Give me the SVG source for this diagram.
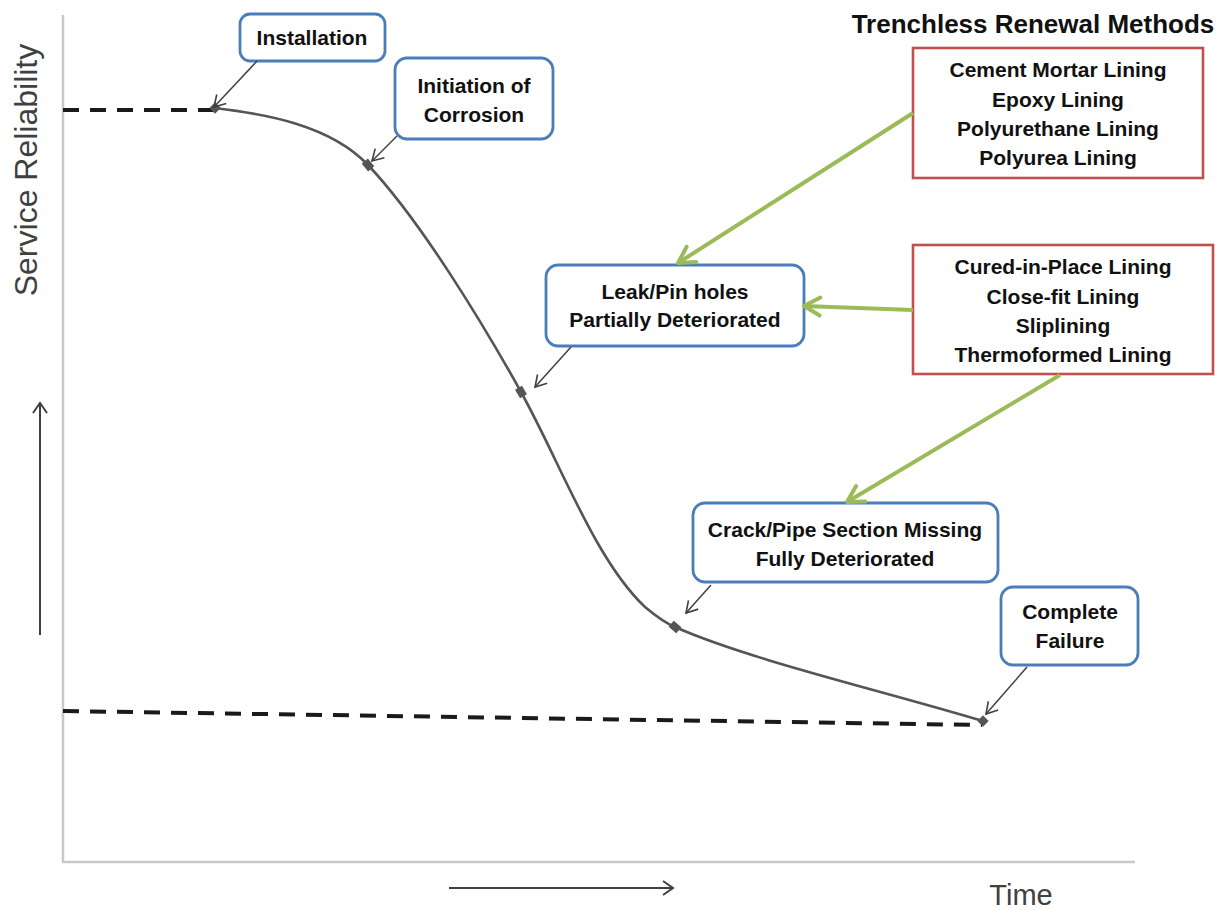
<svg xmlns="http://www.w3.org/2000/svg" width="1228" height="911" viewBox="0 0 1228 911">
<style>
.bg{fill:#ffffff}
.axis{stroke:#c8c8c8;stroke-width:2.5;fill:none}
.dash{stroke:#1a1a1a;stroke-width:4;stroke-dasharray:16 11;fill:none}
.curve{stroke:#555555;stroke-width:2.6;fill:none}
.pt{fill:#555555}
.blue{fill:#ffffff;stroke:#4a7ebb;stroke-width:2.8}
.red{fill:#ffffff;stroke:#c0504d;stroke-width:2.6}
.lbl{font-family:"Liberation Sans",Arial,sans-serif;font-weight:bold;font-size:21px;fill:#111111;text-anchor:middle}
.title{font-family:"Liberation Sans",Arial,sans-serif;font-weight:bold;font-size:26px;fill:#111111;text-anchor:middle}
.axlbl{font-family:"Liberation Sans",Arial,sans-serif;font-size:32px;fill:#404040;text-anchor:middle}
.ptr{stroke:#404040;stroke-width:1.5;fill:none;marker-end:url(#gh)}
.grn{stroke:#9bbb59;stroke-width:4;fill:none;marker-end:url(#gr)}
.dir{stroke:#404040;stroke-width:2;fill:none;marker-end:url(#dh)}
</style>
<defs>
<marker id="gh" markerUnits="userSpaceOnUse" markerWidth="30" markerHeight="30" refX="0" refY="0" viewBox="-15 -15 30 30" orient="auto" overflow="visible">
<path d="M-11,-6.5 L0,0 L-11,6.5" fill="none" stroke="#404040" stroke-width="1.6"/>
</marker>
<marker id="dh" markerUnits="userSpaceOnUse" markerWidth="30" markerHeight="30" refX="0" refY="0" viewBox="-15 -15 30 30" orient="auto" overflow="visible">
<path d="M-10,-7 L0,0 L-10,7" fill="none" stroke="#404040" stroke-width="2"/>
</marker>
<marker id="gr" markerUnits="userSpaceOnUse" markerWidth="40" markerHeight="40" refX="0" refY="0" viewBox="-20 -20 40 40" orient="auto" overflow="visible">
<path d="M-16,-9 L0,0 L-16,9" fill="none" stroke="#9bbb59" stroke-width="4" stroke-linecap="round" stroke-linejoin="round"/>
</marker>
</defs>
<rect class="bg" x="0" y="0" width="1228" height="911"/>

<g id="axes">
<path class="axis" d="M63,15 L63,862 L1135,862"/>
<path class="dir" d="M40,635 L40,403"/>
<path class="dir" d="M449,888 L673,888"/>
<text class="axlbl" transform="translate(37,170) rotate(-90)">Service Reliability</text>
<text class="axlbl" x="1021" y="905" style="font-size:29px">Time</text>
</g>

<g id="reference-lines">
<path class="dash" d="M63,110 L215,110"/>
<path class="dash" d="M63,711 L982,725"/>
</g>

<g id="curve">
<path class="curve" d="M215,108 C265,114 330,125 368,165 C420,220 482,322 521,392 C560,462 595,560 645,607 C657,617 665,623 675,627 C750,660 880,690 983,721"/>
<rect class="pt" x="-4" y="-4" width="8" height="8" transform="translate(215,108) rotate(45)"/>
<rect class="pt" x="-4" y="-5" width="8" height="10" transform="translate(368,165) rotate(-40)"/>
<rect class="pt" x="-4" y="-5" width="8" height="10" transform="translate(521,392) rotate(-30)"/>
<rect class="pt" x="-4" y="-5" width="8" height="10" transform="translate(675,627) rotate(-50)"/>
<rect class="pt" x="-4" y="-4" width="8" height="8" transform="translate(983,721) rotate(45)"/>
</g>

<g id="node-installation">
<rect class="blue" x="240" y="14" width="145" height="47" rx="10"/>
<text class="lbl" x="312" y="45">Installation</text>
</g>
<g id="node-initiation">
<rect class="blue" x="395" y="58" width="158" height="81" rx="12"/>
<text class="lbl" x="474" y="93">Initiation of</text>
<text class="lbl" x="474" y="122">Corrosion</text>
</g>
<g id="node-leak">
<rect class="blue" x="546" y="265" width="258" height="81" rx="12"/>
<text class="lbl" x="675" y="299">Leak/Pin holes</text>
<text class="lbl" x="675" y="327">Partially Deteriorated</text>
</g>
<g id="node-crack">
<rect class="blue" x="693" y="503" width="305" height="79" rx="12"/>
<text class="lbl" x="845" y="537">Crack/Pipe Section Missing</text>
<text class="lbl" x="845" y="566">Fully Deteriorated</text>
</g>
<g id="node-failure">
<rect class="blue" x="1001" y="587" width="137" height="78" rx="12"/>
<text class="lbl" x="1070" y="619">Complete</text>
<text class="lbl" x="1070" y="648">Failure</text>
</g>

<g id="title">
<text class="title" x="1033" y="33">Trenchless Renewal Methods</text>
</g>
<g id="node-coatings">
<rect class="red" x="913" y="48" width="290" height="130"/>
<text class="lbl" x="1058" y="77">Cement Mortar Lining</text>
<text class="lbl" x="1058" y="107">Epoxy Lining</text>
<text class="lbl" x="1058" y="136">Polyurethane Lining</text>
<text class="lbl" x="1058" y="165">Polyurea Lining</text>
</g>
<g id="node-structural">
<rect class="red" x="913" y="245" width="300" height="129"/>
<text class="lbl" x="1063" y="274">Cured-in-Place Lining</text>
<text class="lbl" x="1063" y="304">Close-fit Lining</text>
<text class="lbl" x="1063" y="333">Sliplining</text>
<text class="lbl" x="1063" y="362">Thermoformed Lining</text>
</g>

<g id="connectors">
<path class="ptr" d="M257,61 L214,107"/>
<path class="ptr" d="M397,136 L372,161"/>
<path class="ptr" d="M571,347 L535,387"/>
<path class="ptr" d="M711,585 L686,613"/>
<path class="ptr" d="M1027,667 L986,714"/>
<path class="grn" d="M913,113 L678,263"/>
<path class="grn" d="M913,310 L804,306"/>
<path class="grn" d="M1060,375 L847,502"/>
</g>
</svg>
